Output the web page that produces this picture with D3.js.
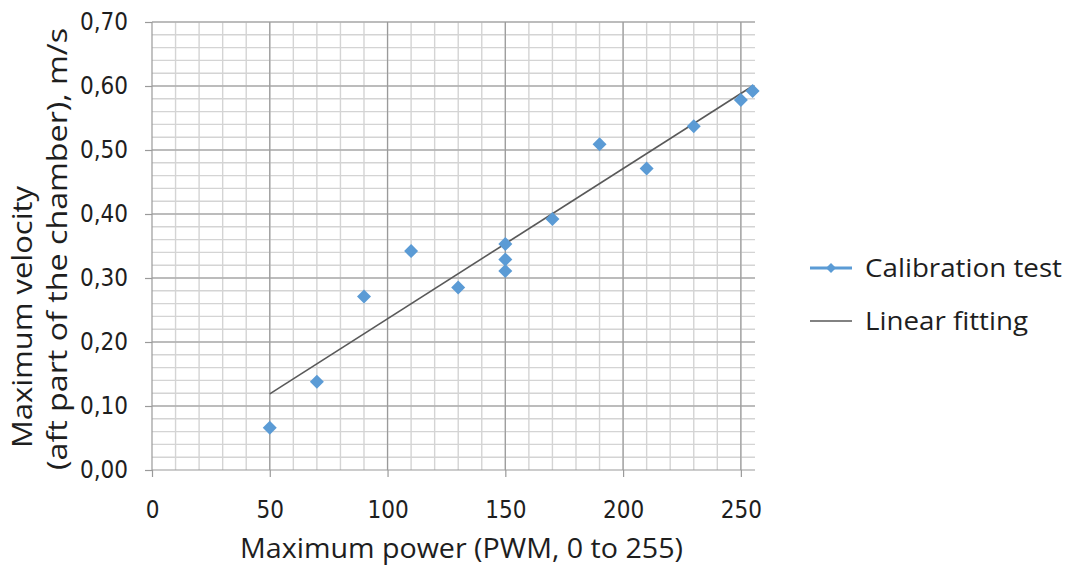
<!DOCTYPE html>
<html>
<head>
  <title>Calibration test</title>
  <script src="https://d3js.org/d3.v7.min.js"></script>
  <style>
    body { margin: 0; background: #fff; }
    text { font-family: "Open Sans", "Noto Sans", sans-serif; fill: #1e1e1e; }
  </style>
</head>
<body>
  <div id="chart"></div>
  <script>
    // Calibration points (PWM power, max velocity m/s)
    const powerValues = [50, 70, 90, 110, 130, 150, 150, 150, 170, 190, 210, 230, 250, 255];
    const velocityValues = [0.066, 0.138, 0.271, 0.342, 0.285, 0.353, 0.329, 0.311, 0.392, 0.509, 0.471, 0.537, 0.578, 0.592];

    // Linear fitting end points
    const fitPower = [50, 255];
    const fitVelocity = [0.119, 0.600];

    const xTicks = [0, 50, 100, 150, 200, 250];
    const yTicks = [0, 0.1, 0.2, 0.3, 0.4, 0.5, 0.6, 0.7];
    const legendLabels = ["Calibration test", "Linear fitting"];

    const width = 1068, height = 568;
    const margin = { top: 22, right: 313, bottom: 98, left: 152 };
    const tickFont = "'Liberation Sans Narrow', 'DejaVu Sans Condensed', sans-serif";

    const svg = d3.select("#chart").append("svg")
      .attr("width", width)
      .attr("height", height);

    const x = d3.scaleLinear().domain([0, 256]).range([margin.left, width - margin.right]);
    const y = d3.scaleLinear().domain([0, 0.7]).range([height - margin.bottom, margin.top]);

    // minor grid lines
    const xMinor = d3.range(10, 256, 10);
    const yMinor = d3.range(0.02, 0.7001, 0.02);

    svg.append("g").selectAll("line")
      .data(xMinor).join("line")
      .attr("x1", d => x(d)).attr("x2", d => x(d))
      .attr("y1", y(0)).attr("y2", y(0.7))
      .attr("stroke", "#d4d4d4").attr("stroke-width", 1.4);

    svg.append("g").selectAll("line")
      .data(yMinor).join("line")
      .attr("x1", x(0)).attr("x2", x(256))
      .attr("y1", d => y(d)).attr("y2", d => y(d))
      .attr("stroke", "#d4d4d4").attr("stroke-width", 1.4);

    // major grid lines
    svg.append("g").selectAll("line")
      .data(xTicks.slice(1)).join("line")
      .attr("x1", d => x(d)).attr("x2", d => x(d))
      .attr("y1", y(0)).attr("y2", y(0.7))
      .attr("stroke", "#9a9a9a").attr("stroke-width", 1.2);

    svg.append("g").selectAll("line")
      .data(yTicks.slice(1)).join("line")
      .attr("x1", x(0)).attr("x2", x(256))
      .attr("y1", d => y(d)).attr("y2", d => y(d))
      .attr("stroke", "#9a9a9a").attr("stroke-width", 1.2);

    // axes
    const fmt = d => d.toFixed(2).replace(".", ",");
    const yAxis = svg.append("g")
      .attr("transform", `translate(${x(0)},0)`)
      .call(d3.axisLeft(y).tickValues(yTicks).tickFormat(fmt).tickSize(7).tickPadding(17));
    const xAxis = svg.append("g")
      .attr("transform", `translate(0,${y(0)})`)
      .call(d3.axisBottom(x).tickValues(xTicks).tickSize(7));
    [xAxis, yAxis].forEach(a => {
      a.select(".domain").attr("stroke", "#9a9a9a").attr("stroke-width", 1.2);
      a.selectAll(".tick line").attr("stroke", "#9a9a9a").attr("stroke-width", 1.2);
      a.selectAll(".tick text")
        .style("font-family", tickFont)
        .style("font-size", "24px").attr("fill", "#444");
    });
    xAxis.selectAll(".tick text").attr("y", 48).attr("dy", 0);
    // domain ends without outer ticks
    yAxis.select(".domain").attr("d", `M0,${y(0.7)}V${y(0)}`);
    xAxis.select(".domain").attr("d", `M${x(0)},0H${x(256)}`);

    // linear fit
    svg.append("path")
      .datum(fitPower.map((p, i) => [p, fitVelocity[i]]))
      .attr("d", d3.line().x(d => x(d[0])).y(d => y(d[1])))
      .attr("stroke", "#595959").attr("stroke-width", 1.6).attr("fill", "none");

    // diamonds
    const diamond = d3.symbol().type(d3.symbolSquare).size(98);
    svg.append("g").selectAll("path")
      .data(powerValues.map((p, i) => [p, velocityValues[i]]))
      .join("path")
      .attr("d", diamond)
      .attr("transform", d => `translate(${x(d[0])},${y(d[1])}) rotate(45)`)
      .attr("fill", "#5b9bd5");

    // axis titles
    svg.append("text")
      .attr("x", 240)
      .attr("y", 558)
      .attr("textLength", 443)
      .attr("lengthAdjust", "spacingAndGlyphs")
      .style("font-size", "28px")
      .text("Maximum power (PWM, 0 to 255)");

    svg.append("text")
      .attr("transform", "translate(32, 448) rotate(-90)")
      .attr("textLength", 262)
      .attr("lengthAdjust", "spacingAndGlyphs")
      .style("font-size", "27px")
      .text("Maximum velocity");
    svg.append("text")
      .attr("transform", "translate(67, 470) rotate(-90)")
      .attr("textLength", 442)
      .attr("lengthAdjust", "spacingAndGlyphs")
      .style("font-size", "27px")
      .text("(aft part of the chamber), m/s");

    // legend
    const legend = svg.append("g").attr("transform", "translate(810, 268)");
    legend.append("line")
      .attr("x1", 0).attr("x2", 42).attr("y1", 0).attr("y2", 0)
      .attr("stroke", "#5b9bd5").attr("stroke-width", 3);
    legend.append("path")
      .attr("d", d3.symbol().type(d3.symbolSquare).size(50))
      .attr("transform", "translate(21,0) rotate(45)")
      .attr("fill", "#5b9bd5");
    legend.append("line")
      .attr("x1", 0).attr("x2", 42).attr("y1", 53).attr("y2", 53)
      .attr("stroke", "#595959").attr("stroke-width", 1.6);
    const legendWidths = [197, 163];
    legend.selectAll("text.lg")
      .data(legendLabels).join("text")
      .attr("class", "lg")
      .attr("x", 55)
      .attr("y", (d, i) => i * 53 + 9)
      .attr("textLength", (d, i) => legendWidths[i])
      .attr("lengthAdjust", "spacingAndGlyphs")
      .style("font-size", "25px")
      .text(d => d);
  </script>
</body>
</html>
